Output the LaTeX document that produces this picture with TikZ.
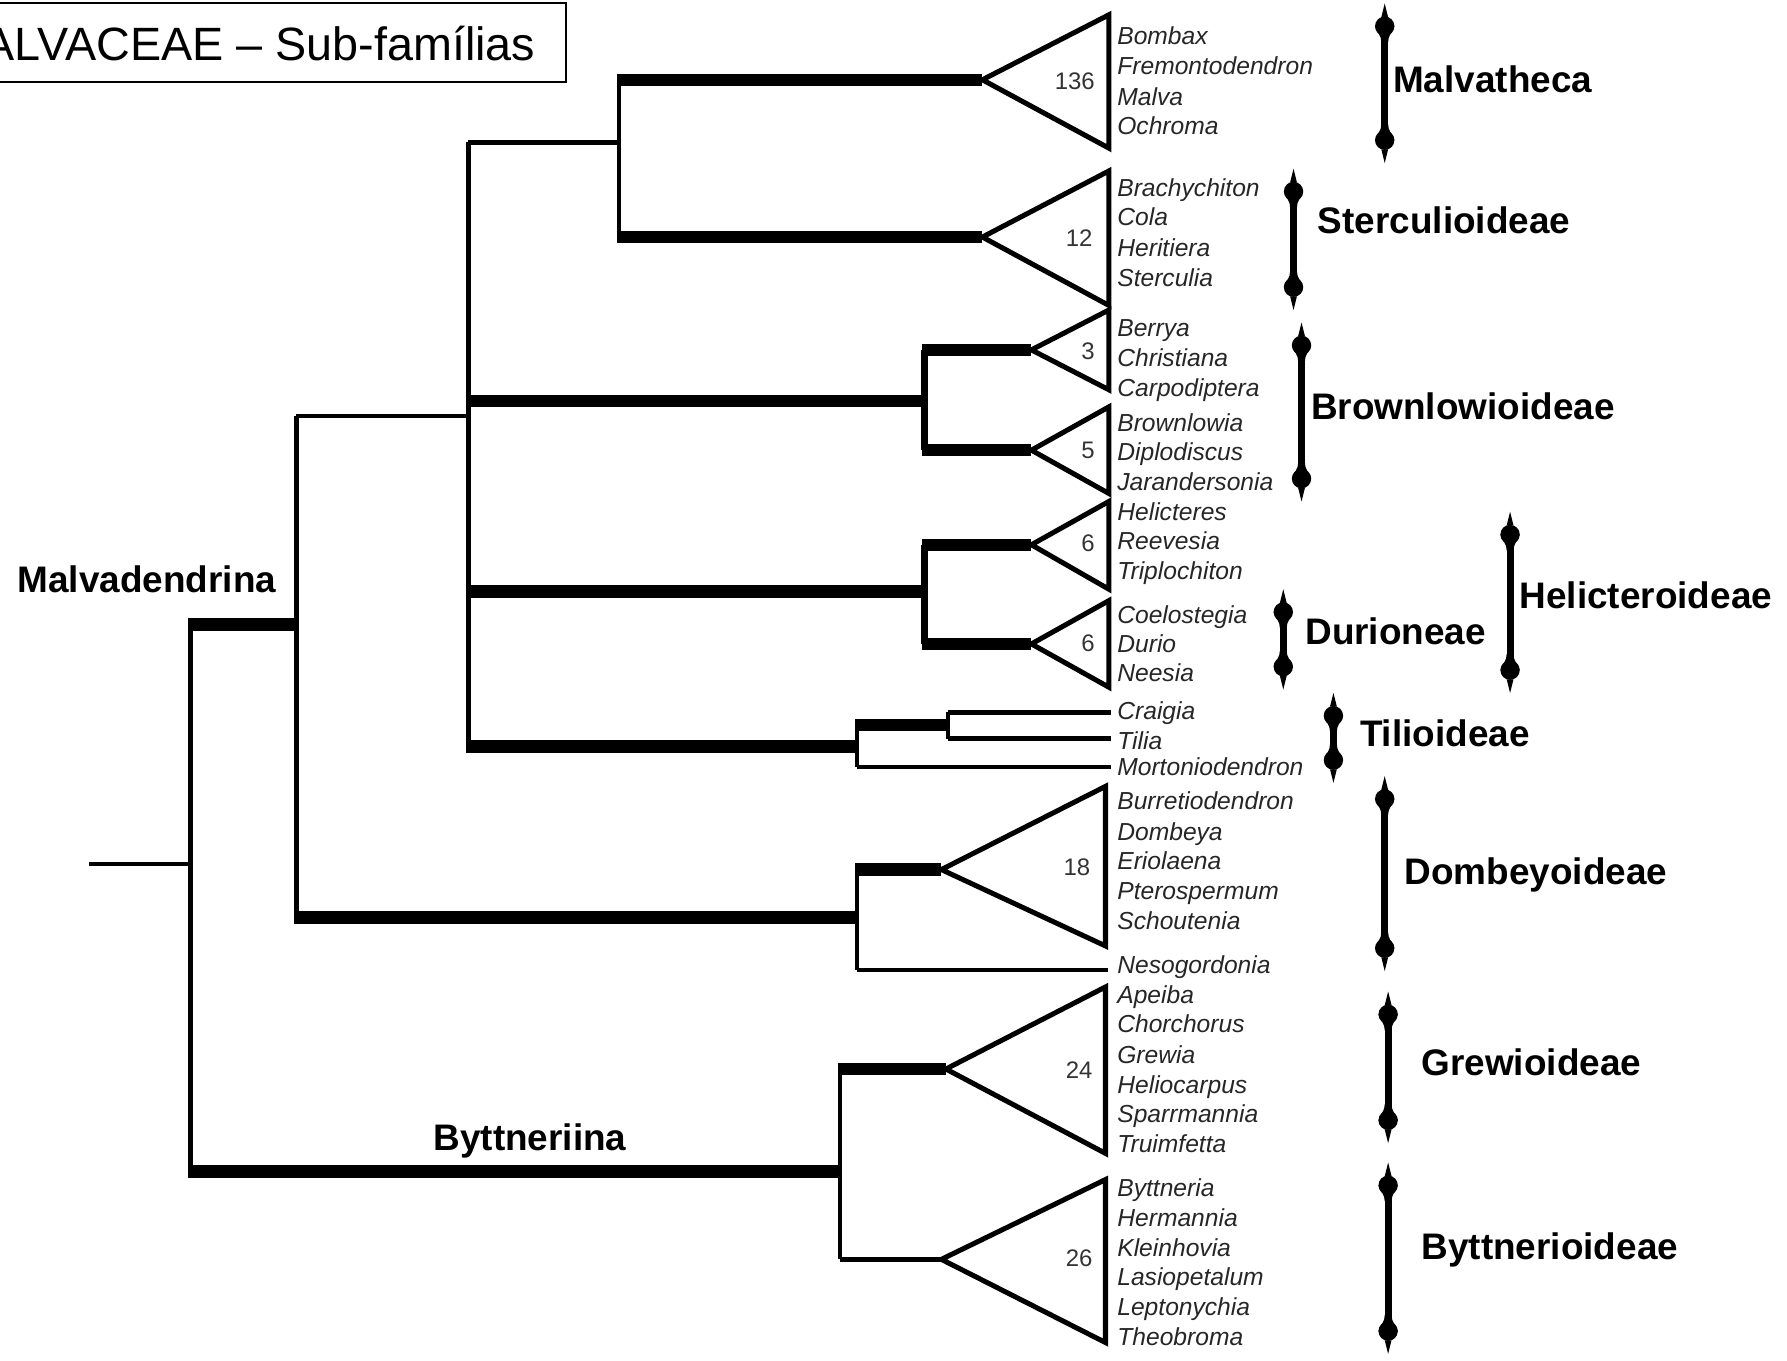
\documentclass[tikz,border=0pt]{standalone}
\usepackage{fontspec}
\setmainfont{Liberation Sans}
\begin{document}
\begin{tikzpicture}[x=0.5pt,y=-0.5pt,
  thinb/.style={line width=2pt},
  medb/.style={line width=3pt},
  fat/.style={line width=5.5pt, shorten <=-1pt},
  tri/.style={line width=2.2pt, line join=miter},
  taxon/.style={font=\fontsize{10.8}{12}\selectfont\itshape, anchor=mid west, inner sep=0pt, text=black!85, yshift=-1.5pt},
  clade/.style={font=\fontsize{16.2}{18}\selectfont\bfseries, anchor=mid west, inner sep=0pt, yshift=-3pt},
  num/.style={font=\fontsize{10.5}{12}\selectfont, anchor=mid east, inner sep=0pt, text=black!80, yshift=-1.5pt},
  endblob/.pic={
    \fill (0,0) -- (3,12) -- (-3,12) -- cycle;
    \fill (0,20) circle (8.5);
    \fill (-8.5,20) .. controls (-6,27) and (-3,28) .. (-3,34) -- (3,34) .. controls (3,28) and (6,27) .. (8.5,20) -- cycle;}
]
\useasboundingbox (0,0) rectangle (1568,1194);
\newcommand\cladebar[3]{%
  \draw[line width=3pt] ({#1},{#2+18}) -- ({#1},{#3-18});
  \pic at ({#1},{#2}) {endblob};
  \pic[yscale=-1] at ({#1},{#3}) {endblob};}

% title
\draw[line width=0.9pt] (-20,3) rectangle (497,72);
\node[anchor=base east, inner sep=0pt, font=\fontsize{20.5}{24}\selectfont] (title) at (470,53.5) {MALVACEAE – Sub-famílias};

% node coordinates
\coordinate (stub) at (78,758);
\coordinate (R) at (167,758);
\coordinate (MD) at (260,548);
\coordinate (BY) at (737,1028);
\coordinate (N1) at (411,365);
\coordinate (DO) at (752,805);
\coordinate (N2) at (543,125);
\coordinate (BR) at (811,352);
\coordinate (HE) at (811,519);
\coordinate (TI) at (752,655);
\coordinate (TC) at (832,636);
% tips
\coordinate (tMal) at (862,70);
\coordinate (tSte) at (862,208);
\coordinate (tBe) at (905,307);
\coordinate (tBw) at (905,395);
\coordinate (tHe) at (905,478);
\coordinate (tDu) at (905,565);
\coordinate (tDo) at (826,763);
\coordinate (tGr) at (830,938);
\coordinate (tBy) at (826,1105);
\coordinate (lCr) at (975,625);
\coordinate (lTi) at (975,648);
\coordinate (lMo) at (975,673);
\coordinate (lNe) at (972,851);

% branches
\draw[thinb] (stub) -- (R);
\draw[thinb] (R |- MD) -- (R |- BY);
\draw[fat] (R |- MD) -- (MD);
\draw[fat] (R |- BY) -- (BY);
\draw[thinb] (MD |- N1) -- (MD |- DO);
\draw[thinb] (MD |- N1) -- (N1);
\draw[fat] (MD |- DO) -- (DO);
\draw[thinb] (N1 |- N2) -- (N1 |- TI);
\draw[thinb] (N1 |- N2) -- (N2);
\draw[fat] (N1 |- BR) -- (BR);
\draw[fat] (N1 |- HE) -- (HE);
\draw[fat] (N1 |- TI) -- (TI);
\draw[thinb] (N2 |- tMal) -- (N2 |- tSte);
\draw[fat] (N2 |- tMal) -- (tMal);
\draw[fat] (N2 |- tSte) -- (tSte);
\draw[medb] (BR |- tBe) -- (BR |- tBw);
\draw[fat] (BR |- tBe) -- (tBe);
\draw[fat] (BR |- tBw) -- (tBw);
\draw[medb] (HE |- tHe) -- (HE |- tDu);
\draw[fat] (HE |- tHe) -- (tHe);
\draw[fat] (HE |- tDu) -- (tDu);
\draw[thinb] (TI |- TC) -- (TI |- lMo);
\draw[fat] (TI |- TC) -- (TC);
\draw[thinb] (TC |- lCr) -- (TC |- lTi);
\draw[thinb] (TC |- lCr) -- (lCr);
\draw[thinb] (TC |- lTi) -- (lTi);
\draw[thinb] (TI |- lMo) -- (lMo);
\draw[thinb] (DO |- tDo) -- (DO |- lNe);
\draw[fat] (DO |- tDo) -- (tDo);
\draw[thinb] (DO |- lNe) -- (lNe);
\draw[thinb] (BY |- tGr) -- (BY |- tBy);
\draw[fat] (BY |- tGr) -- (tGr);
\draw[thinb] (BY |- tBy) -- (tBy);

% triangles
\draw[tri] (tMal) -- (973,13) -- (973,130) -- cycle;
\draw[tri] (tSte) -- (973,150) -- (973,268) -- cycle;
\draw[tri] (tBe) -- (973,272) -- (973,342) -- cycle;
\draw[tri] (tBw) -- (973,357) -- (973,433) -- cycle;
\draw[tri] (tHe) -- (973,440) -- (973,517) -- cycle;
\draw[tri] (tDu) -- (973,527) -- (973,603) -- cycle;
\draw[tri] (tDo) -- (970,690) -- (970,830) -- cycle;
\draw[tri] (tGr) -- (970,866) -- (970,1012) -- cycle;
\draw[tri] (tBy) -- (970,1035) -- (970,1178) -- cycle;

% numbers
\node[num] (k136) at (961,70) {136};
\node[num] (k12) at (959,208) {12};
\node[num] (k3) at (961,307) {3};
\node[num] (k5) at (961,394) {5};
\node[num] (k6a) at (961,476) {6};
\node[num] (k6b) at (961,563) {6};
\node[num] (k18) at (957,760) {18};
\node[num] (k24) at (959,938) {24};
\node[num] (k26) at (959,1103) {26};

% taxa
\foreach \y/\t in {31/Bombax,57/Fremontodendron,84/Malva,110/Ochroma,
  164/Brachychiton,190/Cola,217/Heritiera,243/Sterculia,
  287/Berrya,313/Christiana,340/Carpodiptera,370/Brownlowia,396/Diplodiscus,422/Jarandersonia,
  448/Helicteres,474/Reevesia,500/Triplochiton,539/Coelostegia,564/Durio,590/Neesia,
  623/Craigia,649/Tilia,672/Mortoniodendron,
  702/Burretiodendron,729/Dombeya,755/Eriolaena,781/Pterospermum,807/Schoutenia,846/Nesogordonia,
  872/Apeiba,898/Chorchorus,925/Grewia,951/Heliocarpus,977/Sparrmannia,1003/Truimfetta,
  1042/Byttneria,1068/Hermannia,1094/Kleinhovia,1120/Lasiopetalum,1146/Leptonychia,1172/Theobroma}
  \node[taxon] (tx\y) at (980,\y) {\t};

% clade bars and labels
\cladebar{1215}{3}{143}
\node[clade] (cMal) at (1222,70) {Malvatheca};
\cladebar{1135}{148}{272}
\node[clade] (cSte) at (1156,194) {Sterculioideae};
\cladebar{1142}{283}{440}
\node[clade] (cBro) at (1150,357) {Brownlowioideae};
\cladebar{1126}{517}{605}
\node[clade] (cDur) at (1145,554) {Durioneae};
\cladebar{1325}{449}{608}
\node[clade] (cHel) at (1333,523) {Helicteroideae};
\cladebar{1170}{608}{687}
\node[clade] (cTil) at (1193,644) {Tilioideae};
\cladebar{1215}{681}{852}
\node[clade] (cDom) at (1232,765) {Dombeyoideae};
\cladebar{1218}{870}{1003}
\node[clade] (cGre) at (1247,932) {Grewioideae};
\cladebar{1218}{1020}{1188}
\node[clade] (cByt) at (1247,1094) {Byttnerioideae};

\node[clade] (lMD) at (15,509) {Malvadendrina};
\node[clade] (lBY) at (380,998) {Byttneriina};
\end{tikzpicture}
\end{document}
